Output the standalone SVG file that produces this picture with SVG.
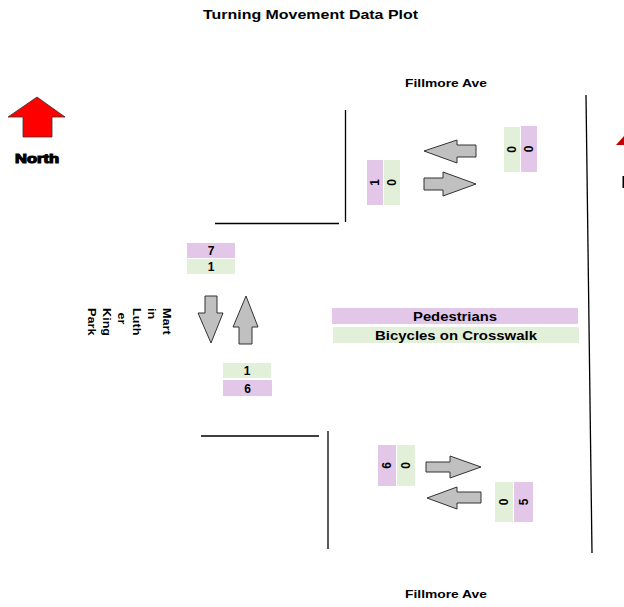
<svg xmlns="http://www.w3.org/2000/svg" width="624" height="607" viewBox="0 0 624 607">
<style>
text{font-family:"Liberation Sans",Arial,sans-serif;font-weight:bold;fill:#000}
.t{font-size:13px}
.lbl{font-size:11px}
.num{font-size:12px}
.leg{font-size:12.5px}
.pk{fill:#E2C7E8}
.gr{fill:#E2EFD9}
.ar{fill:#C0C0C0;stroke:#333;stroke-width:1}
.ln{stroke:#000;stroke-width:1.3;fill:none}
</style>
<rect width="624" height="607" fill="#fff"/>
<text class="t" x="203" y="19" textLength="215" lengthAdjust="spacingAndGlyphs">Turning Movement Data Plot</text>

<g id="north">
<polygon points="37,97 65,117 52,117 52,137 23,137 23,117 8,117" fill="#FF0000" stroke="#333" stroke-width="0.8"/>
<text x="15" y="163" textLength="44" lengthAdjust="spacingAndGlyphs" style="font-size:12.5px;stroke:#000;stroke-width:1.1">North</text>
</g>
<g id="edge-marks">
<polygon points="616,145 624,136 624,145" fill="#C00000"/>
<rect x="622.5" y="176" width="1.5" height="12" fill="#000"/>
</g>

<g id="roads">
<line class="ln" x1="345.5" y1="110" x2="345.5" y2="222"/>
<line class="ln" x1="215" y1="223.5" x2="339" y2="223.5"/>
<line class="ln" x1="586" y1="95" x2="592" y2="553"/>
<line class="ln" x1="201" y1="436" x2="319" y2="436"/>
<line class="ln" x1="328" y1="431" x2="328" y2="549"/>
</g>

<g id="street-labels">
<text class="lbl" x="405" y="87" textLength="82" lengthAdjust="spacingAndGlyphs">Fillmore Ave</text>
<text class="lbl" x="405" y="598" textLength="82" lengthAdjust="spacingAndGlyphs">Fillmore Ave</text>
<g transform="translate(163,308) rotate(90) scale(1.15,1)">
<text class="lbl" x="0" y="0">Mart</text>
<text class="lbl" x="0" y="15">in</text>
<text class="lbl" x="0" y="30">Luth</text>
<text class="lbl" x="4" y="45">er</text>
<text class="lbl" x="0" y="60">King</text>
<text class="lbl" x="0" y="75">Park</text>
</g>
</g>

<g id="legend">
<rect class="pk" x="332" y="308" width="246" height="16"/>
<text class="leg" x="413" y="321" textLength="84" lengthAdjust="spacingAndGlyphs">Pedestrians</text>
<rect class="gr" x="333" y="327" width="246" height="16"/>
<text class="leg" x="375" y="340" textLength="162" lengthAdjust="spacingAndGlyphs">Bicycles on Crosswalk</text>
</g>

<g id="north-approach">
<rect class="pk" x="367" y="160" width="16" height="45"/>
<rect class="gr" x="384" y="160" width="16" height="45"/>
<text class="num" transform="translate(379.3,182.5) rotate(-90)" text-anchor="middle">1</text>
<text class="num" transform="translate(396.3,182.5) rotate(-90)" text-anchor="middle">0</text>
<rect class="gr" x="504" y="127" width="16" height="45"/>
<rect class="pk" x="521" y="126" width="16" height="46"/>
<text class="num" transform="translate(516.3,149.5) rotate(-90)" text-anchor="middle">0</text>
<text class="num" transform="translate(533.3,149) rotate(-90)" text-anchor="middle">0</text>
<polygon class="ar" points="424,151 457,140 457,145 476,145 476,157 457,157 457,163"/>
<polygon class="ar" points="424,178 443,178 443,172 476,184 443,196 443,190 424,190"/>
</g>

<g id="west-approach">
<rect class="pk" x="187" y="243" width="48" height="15"/>
<text class="num" x="211" y="255" text-anchor="middle">7</text>
<rect class="gr" x="187" y="259" width="48" height="15"/>
<text class="num" x="211" y="271" text-anchor="middle">1</text>
<polygon class="ar" points="205,296 217,296 217,313 223,313 211,343 198,313 205,313"/>
<polygon class="ar" points="246,296 258,327 252,327 252,344 239,344 239,327 233,327"/>
<rect class="gr" x="223" y="363" width="48" height="15"/>
<text class="num" x="247" y="375" text-anchor="middle">1</text>
<rect class="pk" x="223" y="380" width="49" height="16"/>
<text class="num" x="247.5" y="392.5" text-anchor="middle">6</text>
</g>

<g id="south-approach">
<rect class="pk" x="378" y="445" width="18" height="41"/>
<rect class="gr" x="397" y="445" width="18" height="41"/>
<text class="num" transform="translate(391.3,465.5) rotate(-90)" text-anchor="middle">6</text>
<text class="num" transform="translate(410.3,465.5) rotate(-90)" text-anchor="middle">0</text>
<polygon class="ar" points="426,462 450,462 450,456 481,467 450,478 450,472 426,472"/>
<polygon class="ar" points="427,498 457,487 457,492 481,492 481,503 457,503 457,509"/>
<rect class="gr" x="495" y="482" width="18" height="40"/>
<rect class="pk" x="514" y="482" width="19" height="40"/>
<text class="num" transform="translate(508.3,502) rotate(-90)" text-anchor="middle">0</text>
<text class="num" transform="translate(527.8,502) rotate(-90)" text-anchor="middle">5</text>
</g>
</svg>
